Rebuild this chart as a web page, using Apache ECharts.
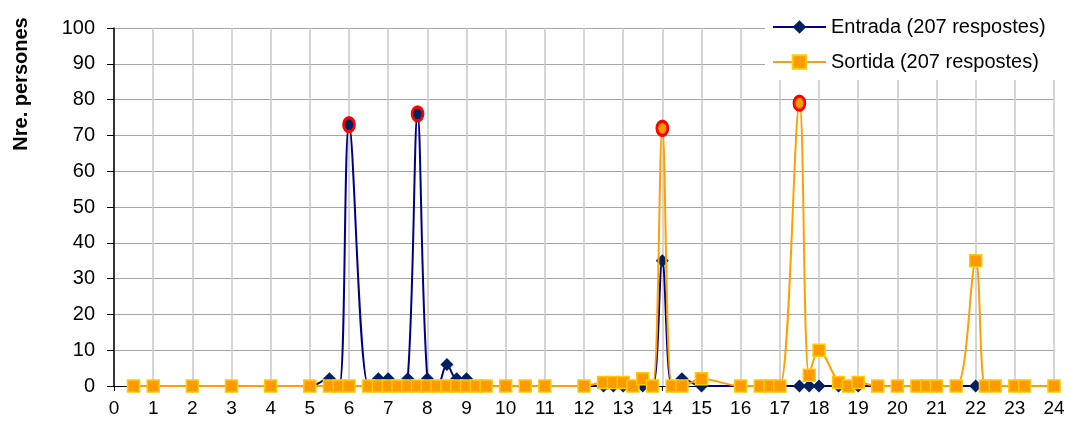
<!DOCTYPE html>
<html>
<head>
<meta charset="utf-8">
<script src="https://cdn.jsdelivr.net/npm/echarts@6/dist/echarts.min.js"></script>
<style>
html,body{margin:0;padding:0;background:#fff;}
#chart{width:1069px;height:429px;}
</style>
</head>
<body>
<div id="chart"></div>
<script>
// Hours of the day (x values, decimal hours)
var hours = [0.5, 1, 2, 3, 4, 5, 5.5, 5.75, 6, 6.5, 6.75, 7, 7.25, 7.5, 7.75, 8, 8.25, 8.5, 8.75, 9, 9.25, 9.5, 10, 10.5, 11, 12, 12.5, 12.75, 13, 13.25, 13.5, 13.75, 14, 14.25, 14.5, 15, 16, 16.5, 16.75, 17, 17.5, 17.75, 18, 18.5, 18.75, 19, 19.5, 20, 20.5, 20.75, 21, 21.5, 22, 22.25, 22.5, 23, 23.25, 24];
// Number of people — Entrada
var entrada = [0, 0, 0, 0, 0, 0, 2, 0, 73, 0, 2, 2, 0, 2, 76, 2, 0, 6, 2, 2, 0, 0, 0, 0, 0, 0, 0, 0, 0, 0, 0, 0, 35, 0, 2, 0, 0, 0, 0, 0, 0, 0, 0, 0, 0, 0, 0, 0, 0, 0, 0, 0, 0, 0, 0, 0, 0, 0];
// Number of people — Sortida
var sortida = [0, 0, 0, 0, 0, 0, 0, 0, 0, 0, 0, 0, 0, 0, 0, 0, 0, 0, 0, 0, 0, 0, 0, 0, 0, 0, 1, 1, 1, 0, 2, 0, 72, 0, 0, 2, 0, 0, 0, 0, 79, 3, 10, 1, 0, 1, 0, 0, 0, 0, 0, 0, 35, 0, 0, 0, 0, 0];
// Highlighted (circled) peaks, by hour
var entradaPeaks = [6, 7.75];
var sortidaPeaks = [14, 17.5];
var seriesNames = ['Entrada (207 respostes)', 'Sortida (207 respostes)'];
var yTitle = 'Nre. persones';

var FONT = '"Liberation Sans", Arial, sans-serif';

function build(values, peaks, fill) {
  return hours.map(function (h, i) {
    var item = { value: [h, values[i]] };
    if (peaks.indexOf(h) >= 0) {
      item.symbol = 'circle';
      item.symbolSize = [11, 14];
      item.itemStyle = { color: fill, borderColor: '#FF0000', borderWidth: 3 };
    }
    return item;
  });
}

var chart = echarts.init(document.getElementById('chart'), null, { renderer: 'canvas' });
chart.setOption({
  animation: false,
  backgroundColor: '#fff',
  grid: { left: 114, right: 15, top: 28, bottom: 43 },
  legend: {
    orient: 'vertical',
    left: 765,
    top: 9,
    padding: [8, 10, 8, 7],
    backgroundColor: '#ffffff',
    itemWidth: 53,
    itemHeight: 17,
    itemGap: 15,
    textStyle: { fontFamily: FONT, fontSize: 20, color: '#000', lineHeight: 20 },
    data: seriesNames
  },
  graphic: [{
    type: 'text',
    x: 21, y: 84,
    rotation: Math.PI / 2,
    style: {
      text: yTitle,
      fontFamily: FONT, fontSize: 20, fontWeight: 'bold', fill: '#000',
      textAlign: 'center', textVerticalAlign: 'middle'
    }
  }],
  xAxis: {
    type: 'value', min: 0, max: 24, interval: 1,
    axisLine: { show: true, onZero: false, lineStyle: { color: '#000', width: 1 } },
    axisTick: { show: true, length: 5, lineStyle: { color: '#000' } },
    axisLabel: { fontFamily: FONT, fontSize: 19, color: '#000', margin: 13 },
    splitLine: { show: true, lineStyle: { color: '#c8c8c8', width: 1.5 } }
  },
  yAxis: {
    type: 'value', min: 0, max: 100, interval: 10,
    axisLine: { show: true, lineStyle: { color: '#000', width: 1.5 } },
    axisTick: { show: true, length: 7, lineStyle: { color: '#000' } },
    axisLabel: { fontFamily: FONT, fontSize: 20, color: '#000', margin: 19 },
    splitLine: { show: true, lineStyle: { color: '#a6a6a6', width: 1 } }
  },
  series: [{
    name: seriesNames[0],
    type: 'line',
    z: 2,
    smooth: 0.35,
    symbol: 'diamond',
    symbolSize: 13,
    showAllSymbol: true,
    lineStyle: { color: '#000080', width: 2 },
    itemStyle: { color: '#002060', borderColor: '#002060', borderWidth: 0 },
    data: build(entrada, entradaPeaks, '#002060')
  }, {
    name: seriesNames[1],
    type: 'line',
    z: 3,
    smooth: 0.35,
    symbol: 'rect',
    symbolSize: 12,
    showAllSymbol: true,
    lineStyle: { color: '#FFA000', width: 2 },
    itemStyle: { color: '#FF9900', borderColor: '#FFCC00', borderWidth: 1.5 },
    data: build(sortida, sortidaPeaks, '#FF9900')
  }]
});
</script>
</body>
</html>
